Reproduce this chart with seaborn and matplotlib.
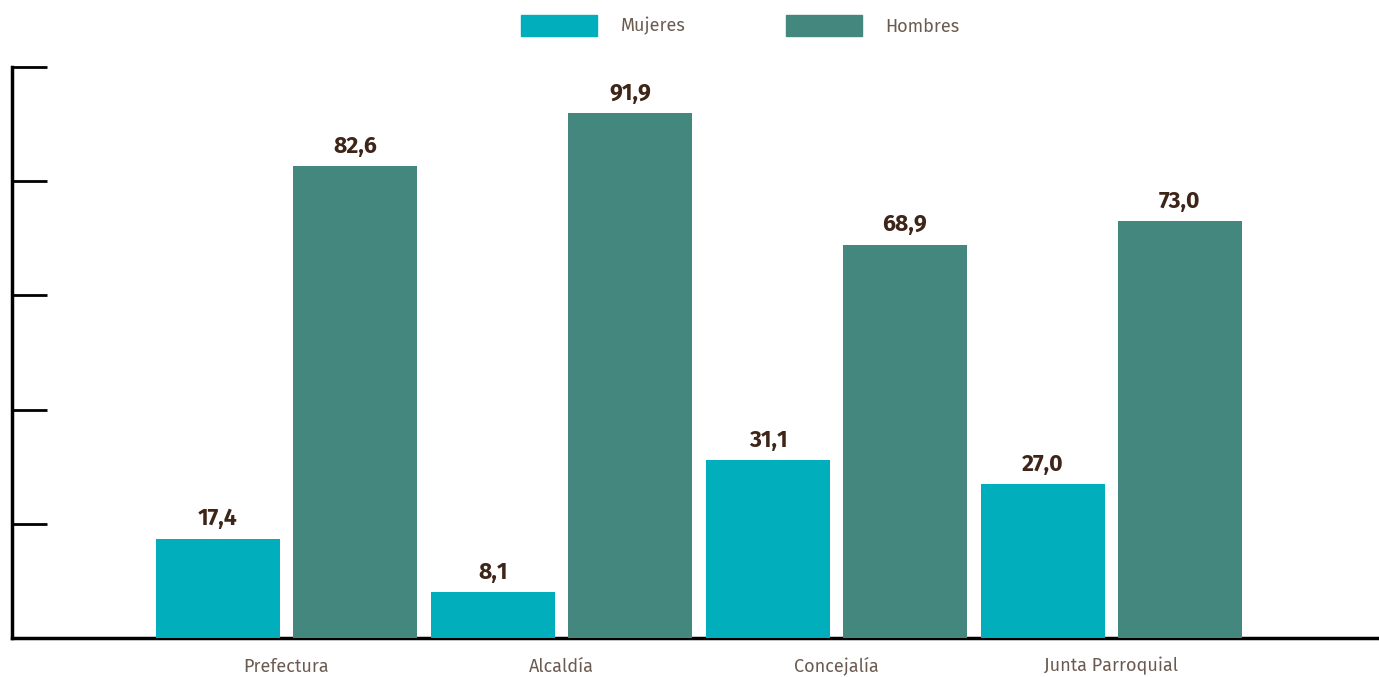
import matplotlib
matplotlib.use("Agg")
import matplotlib.pyplot as plt
import matplotlib.transforms as mtransforms
import pandas as pd
import seaborn as sns

categories = ["Prefectura", "Alcaldía", "Concejalía", "Junta Parroquial"]
mujeres = [17.4, 8.1, 31.1, 27.0]
hombres = [82.6, 91.9, 68.9, 73.0]
series = ["Mujeres", "Hombres"]
colors = ["#00aebc", "#43877f"]

df = pd.DataFrame({
    "cargo": categories * 2,
    "sexo": [series[0]] * len(categories) + [series[1]] * len(categories),
    "valor": mujeres + hombres,
})

sns.set_theme(style="white")
plt.rcParams["font.family"] = ["Fira Sans", "Open Sans", "DejaVu Sans"]

fig = plt.figure(figsize=(13.79, 6.77), dpi=100)
ax = fig.add_axes([12 / 1379, 39 / 677, 1367 / 1379, 571 / 677])

sns.barplot(
    data=df, x="cargo", y="valor", hue="sexo", hue_order=series,
    palette=colors, width=0.996, gap=0.094, saturation=1, ax=ax,
    legend=False, zorder=3, linewidth=0, edgecolor="none",
)

for container in ax.containers:
    ax.bar_label(
        container,
        labels=[f"{v:.1f}".replace(".", ",") for v in container.datavalues],
        padding=6, fontsize=16.5, fontweight="bold", color="#3e2518",
    )

ax.set_ylim(0, 100)
ax.set_xlim(-0.998, 3.973)
ax.set_yticks(range(0, 101, 20))
ax.set_yticklabels([])
ax.tick_params(axis="y", direction="in", length=25, width=2, color="black", left=True)
ax.tick_params(axis="x", length=0)
ax.set_xticklabels([])
ax.set_xlabel("")
ax.set_ylabel("")

# category names on a common baseline below the axis
trans = mtransforms.blended_transform_factory(ax.transData, ax.transAxes)
for i, name in enumerate(categories):
    ax.text(i, -0.059, name, transform=trans, ha="center", va="baseline",
            fontsize=13, color="#6b5a50")

for side in ["top", "right"]:
    ax.spines[side].set_visible(False)
for side in ["left", "bottom"]:
    ax.spines[side].set_color("black")
    ax.spines[side].set_linewidth(2.5)
    ax.spines[side].set_zorder(2)

handles = [plt.Rectangle((0, 0), 1, 1, color=c) for c in colors]
leg = fig.legend(
    handles, series, loc="upper center", bbox_to_anchor=(0.537, 1.0), ncol=2,
    frameon=False, fontsize=13, handlelength=4.2, handleheight=1.35,
    handletextpad=1.3, columnspacing=5.6, borderaxespad=0.45,
)
for t in leg.get_texts():
    t.set_color("#6b5a50")

fig.savefig("out.png", dpi=100)
